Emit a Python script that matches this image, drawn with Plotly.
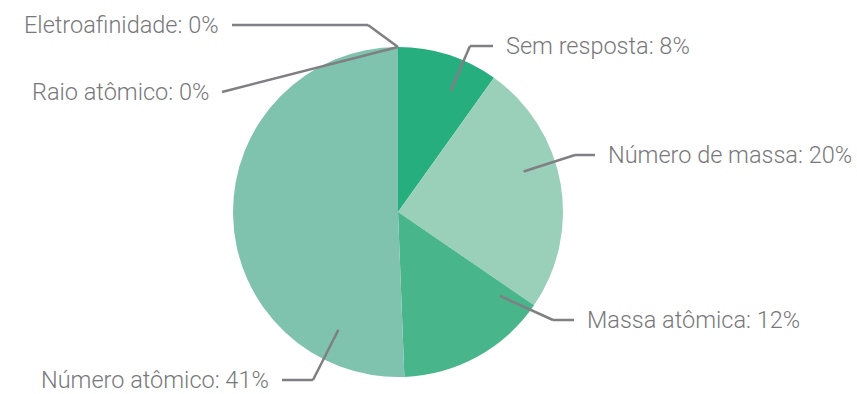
import math
import plotly.graph_objects as go

# Survey answers (percent of respondents)
categories = ["Sem resposta", "Número de massa", "Massa atômica",
              "Número atômico", "Raio atômico", "Eletroafinidade"]
values = [8, 20, 12, 41, 0, 0]

colors = ["#27ae7f", "#9acfba", "#48b58a", "#7fc3ae", "#6cbd9e", "#58b894"]

W, H = 857, 394
CX, CY, R = 398, 212, 165          # pie centre and radius in pixels

# Leader-line layout, in pixels relative to the pie centre:
# elbow point, end of the horizontal run, and the side the text sits on.
label_layout = {
    "Sem resposta":    dict(elbow=(72, -166),  end_x=95,   side=1),
    "Número de massa": dict(elbow=(177, -57),  end_x=197,  side=1),
    "Massa atômica":   dict(elbow=(155, 108),  end_x=176,  side=1),
    "Número atômico":  dict(elbow=(-85, 168),  end_x=-116, side=-1),
    "Raio atômico":    dict(elbow=(-176, -120), end_x=-176, side=-1),
    "Eletroafinidade": dict(elbow=(-30, -187), end_x=-166, side=-1),
}

FONT = dict(family="Roboto, Lato, sans-serif", size=23.5, weight=300,
            color="#78787b")
LINE = dict(color="#7f7f84", width=2.5)


def px(x, y):
    """Pixel offset from the pie centre -> paper coordinates."""
    return (CX + x) / W, 1 - (CY + y) / H


fig = go.Figure(go.Pie(
    labels=categories,
    values=values,
    sort=False,
    direction="clockwise",
    rotation=0,
    marker=dict(colors=colors, line=dict(width=0)),
    textinfo="none",
    hoverinfo="label+value",
    showlegend=False,
    domain=dict(x=[(CX - R) / W, (CX + R) / W],
                y=[1 - (CY + R) / H, 1 - (CY - R) / H]),
))

total = sum(values)
start = 0.0
shapes, annotations = [], []
for name, v in zip(categories, values):
    span = 360.0 * v / total
    lay = label_layout[name]
    ex, ey = lay["elbow"]
    if v > 0:
        # anchor inside the slice, pointing toward the elbow
        ang = math.degrees(math.atan2(ex, -ey)) % 360
        pad = min(5.0, span / 4)
        ang = max(start + pad, min(start + span - pad, ang))
        rr = 0.8 * R
    else:
        ang = start % 360
        rr = R
    sx = rr * math.sin(math.radians(ang))
    sy = -rr * math.cos(math.radians(ang))
    pts = [(sx, sy), (ex, ey), (lay["end_x"], ey)]
    for (x0, y0), (x1, y1) in zip(pts[:-1], pts[1:]):
        if (x0, y0) == (x1, y1):
            continue
        a0, b0 = px(x0, y0)
        a1, b1 = px(x1, y1)
        shapes.append(dict(type="line", xref="paper", yref="paper",
                           x0=a0, y0=b0, x1=a1, y1=b1, line=LINE))
    tx, ty = px(lay["end_x"] + lay["side"] * 11, ey)
    annotations.append(dict(
        xref="paper", yref="paper", x=tx, y=ty,
        text=f"{name}: {v}%", showarrow=False, font=FONT,
        xanchor="left" if lay["side"] > 0 else "right", yanchor="middle"))
    start += span

fig.update_layout(
    width=W, height=H, autosize=False,
    margin=dict(l=0, r=0, t=0, b=0),
    paper_bgcolor="white", plot_bgcolor="white",
    shapes=shapes, annotations=annotations,
)

fig.write_html("out.html")
